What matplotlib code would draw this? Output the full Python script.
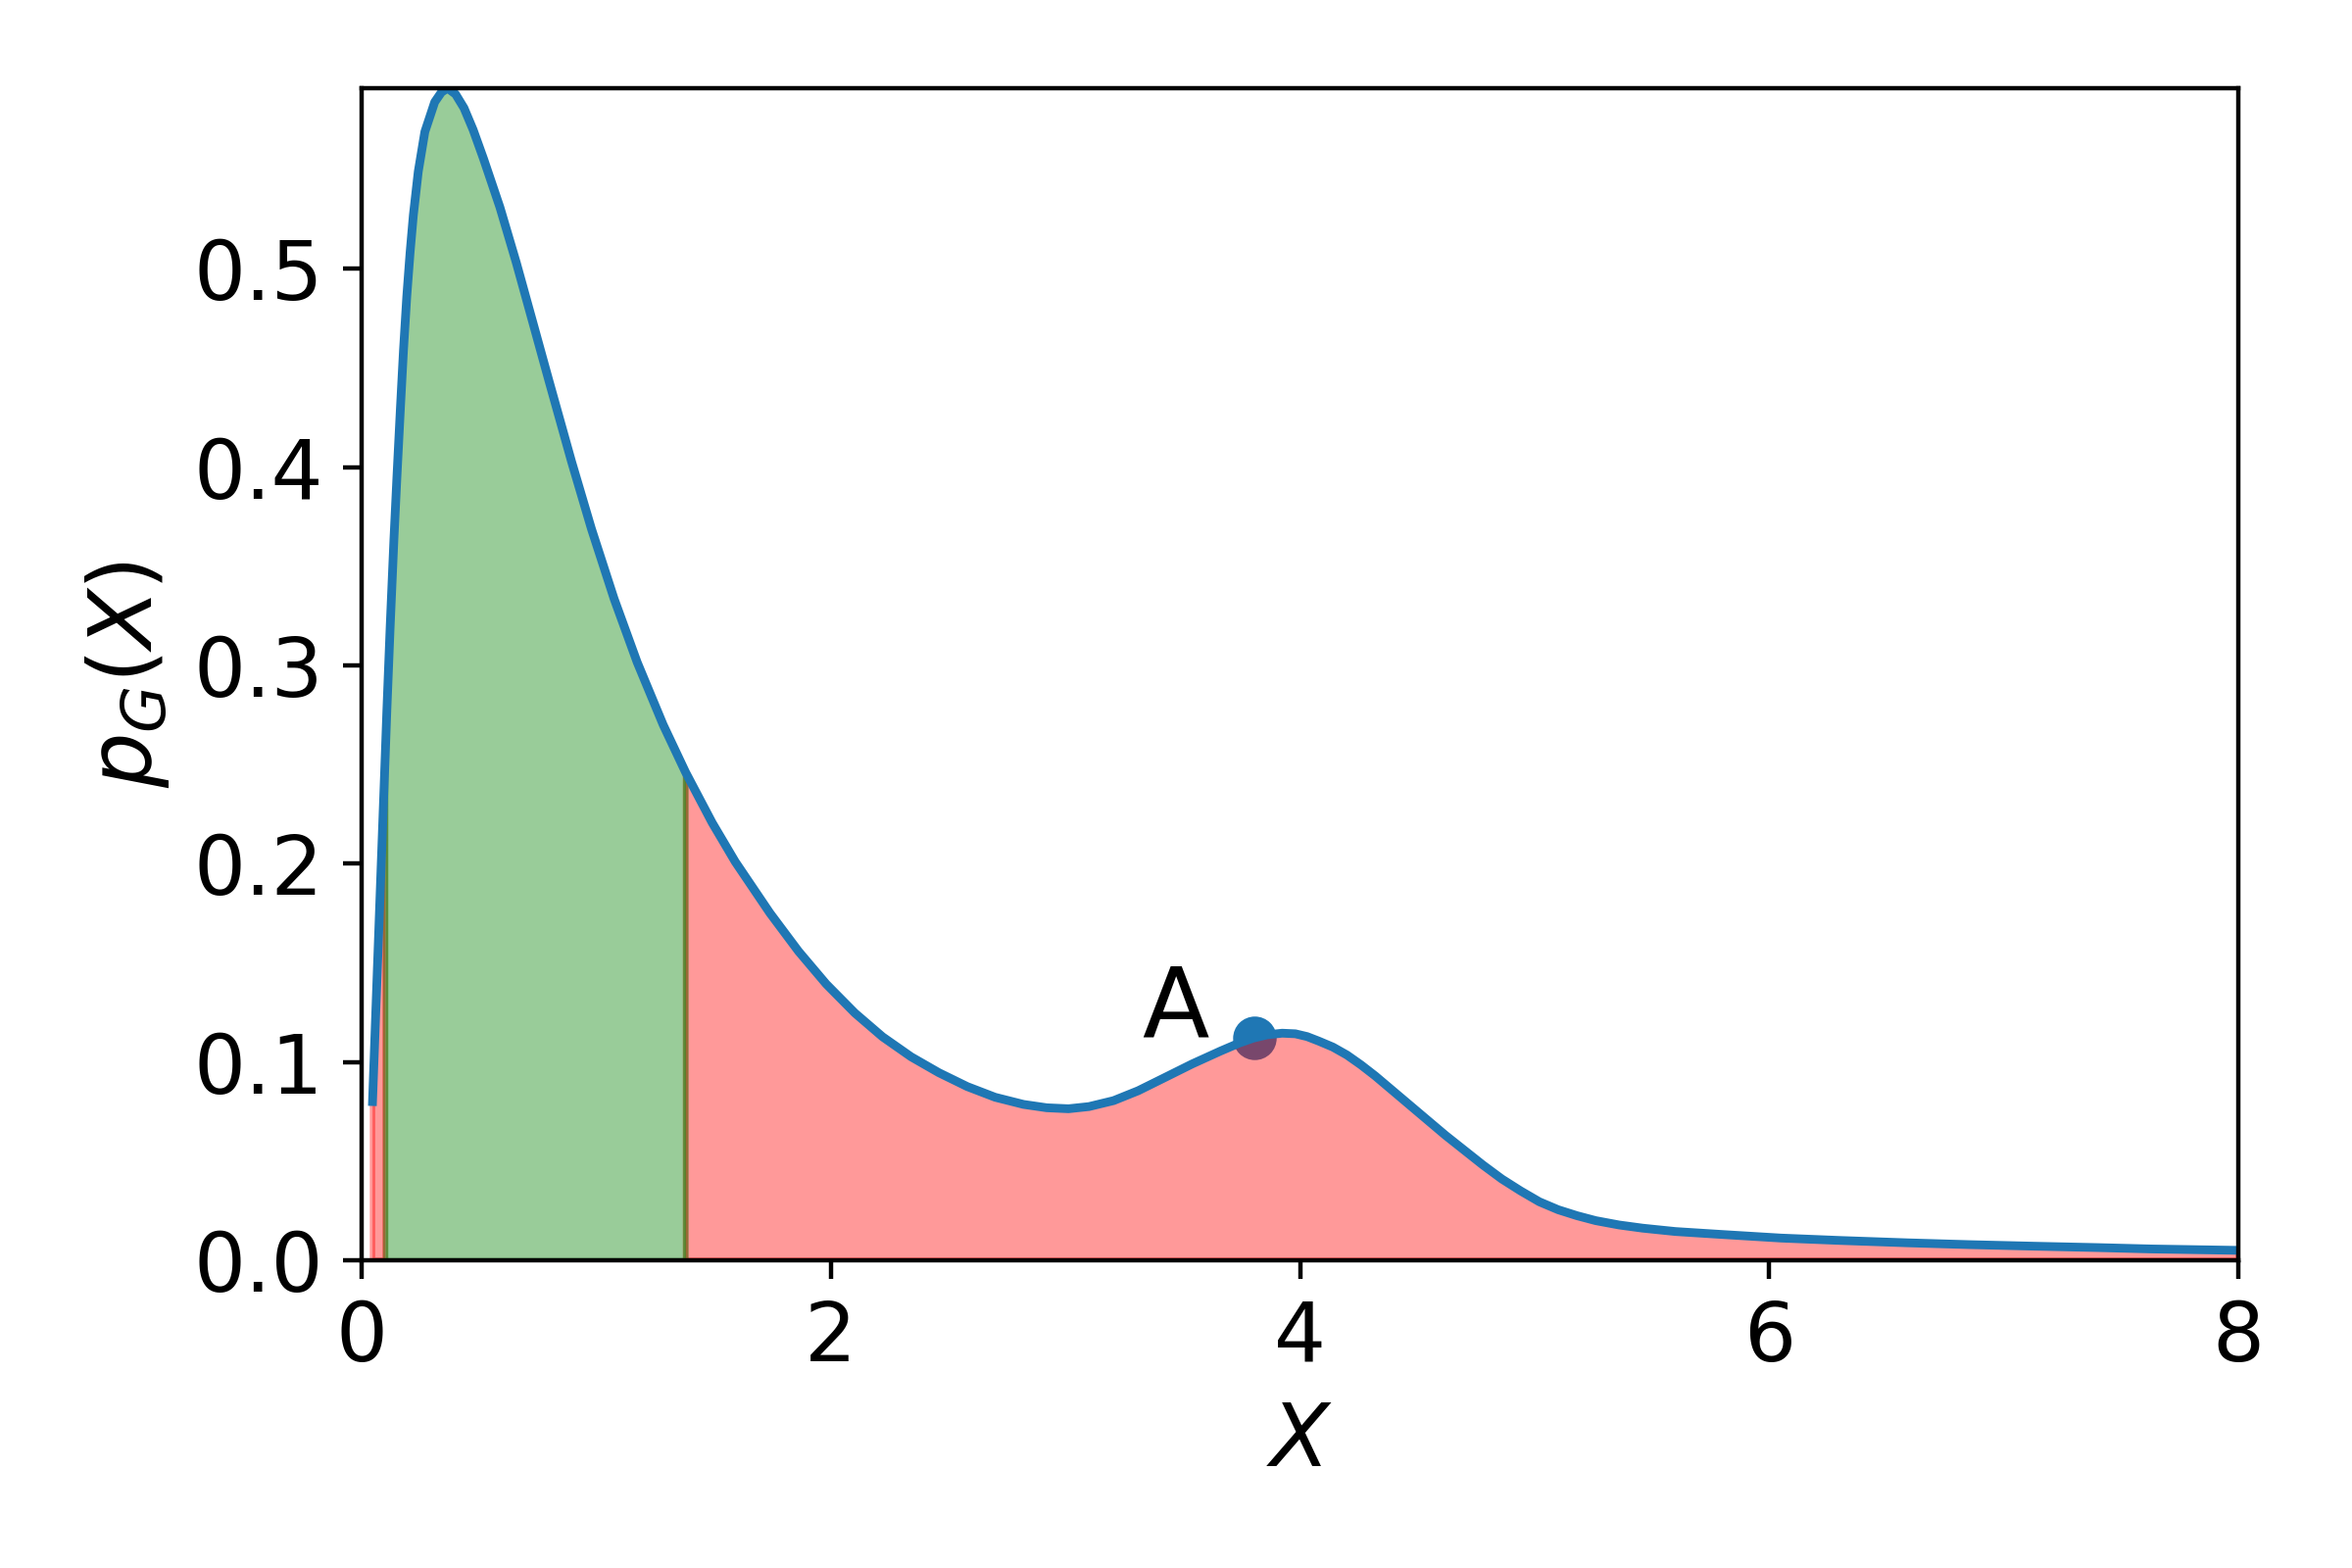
import numpy as np
import matplotlib
matplotlib.use('Agg')
import matplotlib.pyplot as plt

# density curve
x = np.array([0.046, 0.066, 0.085, 0.100, 0.107, 0.121, 0.137, 0.150, 0.165, 0.178,
              0.192, 0.206, 0.220, 0.241, 0.269, 0.311, 0.340, 0.366, 0.400, 0.436,
              0.475, 0.519, 0.589, 0.659, 0.728, 0.798, 0.895, 0.979, 1.076, 1.174,
              1.285, 1.380, 1.494, 1.592, 1.740, 1.862, 1.980, 2.102, 2.220, 2.342,
              2.460, 2.581, 2.700, 2.821, 2.920, 3.013, 3.100, 3.205, 3.310, 3.421,
              3.540, 3.661, 3.740, 3.800, 3.860, 3.924, 3.980, 4.030, 4.080, 4.140,
              4.200, 4.260, 4.320, 4.380, 4.440, 4.500, 4.560, 4.620, 4.700, 4.780,
              4.860, 4.940, 5.020, 5.100, 5.180, 5.260, 5.360, 5.460, 5.600, 5.800,
              6.050, 6.300, 6.590, 6.850, 7.130, 7.400, 7.630, 8.000])
p = np.array([0.080, 0.145, 0.206, 0.254, 0.277, 0.319, 0.363, 0.395, 0.430, 0.459,
              0.486, 0.508, 0.527, 0.549, 0.569, 0.584, 0.589, 0.591, 0.588, 0.581,
              0.570, 0.5555, 0.531, 0.503, 0.4735, 0.4435, 0.4025, 0.3689, 0.3335, 0.3016,
              0.2700, 0.2462, 0.2206, 0.2010, 0.1751, 0.1558, 0.1393, 0.1247, 0.1127, 0.1026,
              0.0946, 0.0876, 0.0822, 0.0786, 0.0769, 0.0764, 0.0775, 0.0805, 0.0855, 0.092,
              0.099, 0.1055, 0.1095, 0.112, 0.1137, 0.1145, 0.1142, 0.1128, 0.1105, 0.1075,
              0.1035, 0.0985, 0.093, 0.087, 0.081, 0.075, 0.069, 0.063, 0.0555, 0.048,
              0.041, 0.035, 0.0295, 0.0255, 0.0225, 0.0200, 0.0178, 0.0162, 0.0145, 0.013,
              0.0112, 0.010, 0.0088, 0.0079, 0.0071, 0.0064, 0.0057, 0.005])

lo, hi = 0.1, 1.38      # green interval
xA, yA = 3.805, 0.1122  # point A

fig = plt.figure(figsize=(6, 4), dpi=400)
ax = fig.add_axes([0.1538, 0.19625, 0.7979, 0.7475])

ax.scatter([xA], [yA], s=49, color='C0', zorder=1)
inside = (x >= lo) & (x <= hi)
outside = (x <= lo) | (x >= hi)
ax.fill_between(x, p, where=outside, color='red', alpha=0.4, zorder=1)
ax.fill_between(x, p, where=inside, color='green', alpha=0.4, zorder=1)
ax.plot(x, p, color='C0', lw=1.6, zorder=2)
ax.text(3.61, yA, 'A', fontsize=18, ha='right', va='baseline')

ax.set_xlim(0, 8)
ax.set_ylim(0, p.max())
ax.set_xticks([0, 2, 4, 6, 8])
ax.set_yticks([0.0, 0.1, 0.2, 0.3, 0.4, 0.5])
ax.tick_params(labelsize=15)
ax.set_xlabel('$X$', fontsize=16)
ax.set_ylabel('$p_G(X)$', fontsize=16)

plt.savefig('out.png', dpi=400)
